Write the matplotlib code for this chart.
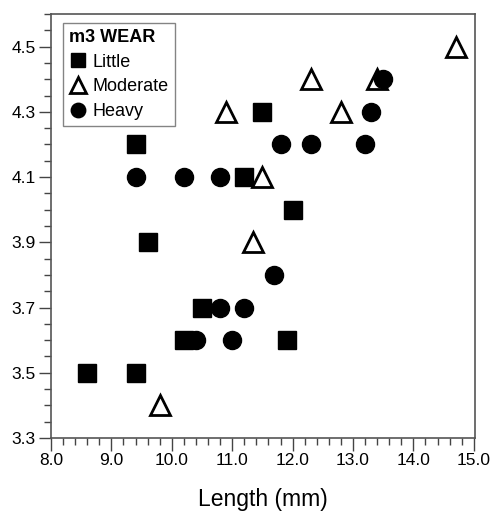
import matplotlib.pyplot as plt
from matplotlib.ticker import MultipleLocator

plt.rcParams['font.family'] = ['Liberation Sans', 'DejaVu Sans']

# m3 wear groups: length (mm) vs value
little_x = [8.6, 9.4, 9.4, 9.6, 10.2, 10.5, 11.2, 11.5, 12.0, 11.9]
little_y = [3.5, 3.5, 4.2, 3.9, 3.6, 3.7, 4.1, 4.3, 4.0, 3.6]

moderate_x = [9.8, 10.9, 11.5, 11.35, 12.3, 12.8, 13.4, 14.7]
moderate_y = [3.4, 4.3, 4.1, 3.9, 4.4, 4.3, 4.4, 4.5]

heavy_x = [9.4, 10.2, 10.8, 10.4, 11.0, 10.8, 11.2, 11.7, 11.8, 12.3, 13.2, 13.3, 13.5]
heavy_y = [4.1, 4.1, 4.1, 3.6, 3.6, 3.7, 3.7, 3.8, 4.2, 4.2, 4.2, 4.3, 4.4]

fig = plt.figure(figsize=(4.99, 5.15), dpi=100)
ax = fig.add_axes([51/499, 77/515, 424/499, 424/515])

ax.plot(little_x, little_y, 's', color='black', markersize=13, linestyle='none', label='Little')
ax.plot(moderate_x, moderate_y, '^', markerfacecolor='white', markeredgecolor='black',
        markeredgewidth=2, markersize=14, linestyle='none', label='Moderate')
ax.plot(heavy_x, heavy_y, 'o', color='black', markersize=13, linestyle='none', label='Heavy')

ax.set_xlim(8.0, 15.02)
ax.set_ylim(3.3, 4.6)
ax.xaxis.set_major_locator(MultipleLocator(1.0))
ax.xaxis.set_minor_locator(MultipleLocator(0.2))
ax.set_yticks([3.3, 3.5, 3.7, 3.9, 4.1, 4.3, 4.5])
ax.yaxis.set_minor_locator(MultipleLocator(0.05))
ax.xaxis.set_major_formatter(plt.FormatStrFormatter('%.1f'))
ax.yaxis.set_major_formatter(plt.FormatStrFormatter('%.1f'))
ax.tick_params(which='major', direction='out', length=9, width=1, labelsize=12.5,
               color='#444444', pad=2)
ax.tick_params(which='minor', direction='out', length=5, width=1, color='#444444')
for s in ax.spines.values():
    s.set_color('#555555')
    s.set_linewidth(1.2)

ax.set_xlabel('Length (mm)', fontsize=16.5, labelpad=14)

leg = ax.legend(title='m3 WEAR', loc='upper left', bbox_to_anchor=(0.028, 0.979),
                fontsize=13, title_fontsize=13, frameon=True, fancybox=False,
                markerscale=0.8, handletextpad=0.3, handlelength=1.0, borderpad=0.35,
                labelspacing=0.42, borderaxespad=0)
leg.get_title().set_fontweight('bold')
leg._legend_box.align = 'left'
leg.get_frame().set_edgecolor('#666666')
leg.get_frame().set_linewidth(1)

fig.savefig('out.png', dpi=100)
